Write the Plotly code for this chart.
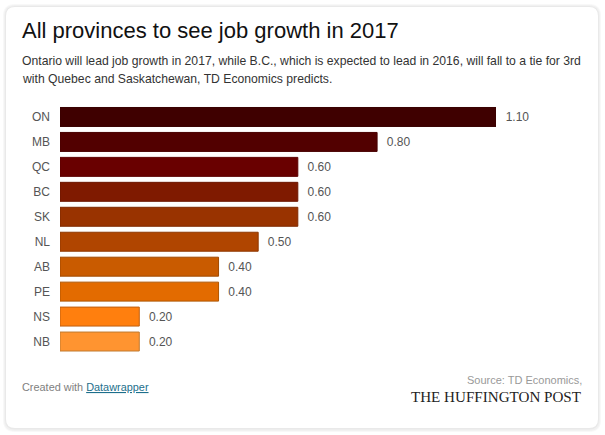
import plotly.graph_objects as go

provinces = ["ON", "MB", "QC", "BC", "SK", "NL", "AB", "PE", "NS", "NB"]
growth = [1.10, 0.80, 0.60, 0.60, 0.60, 0.50, 0.40, 0.40, 0.20, 0.20]
bar_colors = ["#3f0000", "#520000", "#690000", "#7f1a00", "#993300",
              "#b04500", "#c95b00", "#e36b00", "#ff7f0e", "#ff9430"]
line_colors = ["#380000", "#480000", "#5c0000", "#6c1600", "#7f2a00",
               "#8f3800", "#a04900", "#b05500", "#c06010", "#c07a30"]

W, H = 605, 435
SANS = "Liberation Sans, Arial, sans-serif"


def px(x):
    return x / W


def py(y):
    return 1 - y / H


def rounded(x0, y0, x1, y1, r):
    P = lambda a, b: f"{px(a):.5f},{py(b):.5f}"
    return (f"M{P(x0+r,y0)} L{P(x1-r,y0)} Q{P(x1,y0)} {P(x1,y0+r)} L{P(x1,y1-r)} Q{P(x1,y1)} {P(x1-r,y1)} "
            f"L{P(x0+r,y1)} Q{P(x0,y1)} {P(x0,y1-r)} L{P(x0,y0+r)} Q{P(x0,y0)} {P(x0+r,y0)} Z")


def card_shape(x0, y0, x1, y1, r, color):
    return dict(type="path", xref="paper", yref="paper", path=rounded(x0, y0, x1, y1, r),
                fillcolor=color, line=dict(width=0), layer="below")


fig = go.Figure(go.Bar(
    x=growth, y=provinces, orientation="h",
    marker=dict(color=bar_colors, line=dict(color=line_colors, width=1)),
    text=growth, texttemplate="\u00a0\u00a0%{x:.2f}", textposition="outside", cliponaxis=False,
    textfont=dict(family=SANS, size=12, color="#555555"),
    hoverinfo="skip",
))


def label(x, y, text, size, color, anchor="left", family=SANS):
    fig.add_annotation(xref="paper", yref="paper", x=px(x), y=py(y), text=text, showarrow=False,
                       xanchor=anchor, yanchor="middle", align=anchor, borderpad=0, borderwidth=0,
                       font=dict(family=family, size=size, color=color))


label(21.5, 30, "All provinces to see job growth in 2017", 22, "#111111")
label(21.5, 61, "Ontario will lead job growth in 2017, while B.C., which is expected to lead in 2016, will fall to a tie for 3rd", 12.2, "#333333")
label(21.5, 79, "with Quebec and Saskatchewan, TD Economics predicts.", 12.2, "#333333")
label(22, 387, "Created with <span style='color:#1d6f8c'><u>Datawrapper</u></span>", 10.9, "#808080")
label(582, 380, "Source: TD Economics,", 11, "#999999", "right")
label(581, 396.5, "THE HUFFINGTON POST", 15.1, "#222222", "right", "Liberation Serif, Georgia, serif")

fig.update_layout(
    width=W, height=H, margin=dict(l=0, r=0, t=0, b=0), autosize=False,
    paper_bgcolor="#ffffff", plot_bgcolor="rgba(0,0,0,0)", showlegend=False, bargap=0.24,
    xaxis=dict(domain=[60 / W, 496 / W], range=[0, 1.1], visible=False, fixedrange=True),
    yaxis=dict(domain=[1 - 354 / H, 1 - 104.5 / H], autorange=False, range=[9.5, -0.5],
               type="category", showgrid=False, showline=False, zeroline=False,
               ticks="", ticklabelstandoff=9, fixedrange=True,
               tickfont=dict(family=SANS, size=12, color="#555555")),
    shapes=[
        card_shape(3, 4, 601, 432, 12, "#f8f8f8"),
        card_shape(4, 5, 600, 431, 11, "#f1f1f1"),
        card_shape(5, 6, 599, 429.5, 10, "#e9e9e9"),
        card_shape(6, 7, 598, 428, 9, "#ffffff"),
    ],
)
fig.write_html("out.html", config=dict(displayModeBar=False),
               post_script="document.body.style.margin='0';")
